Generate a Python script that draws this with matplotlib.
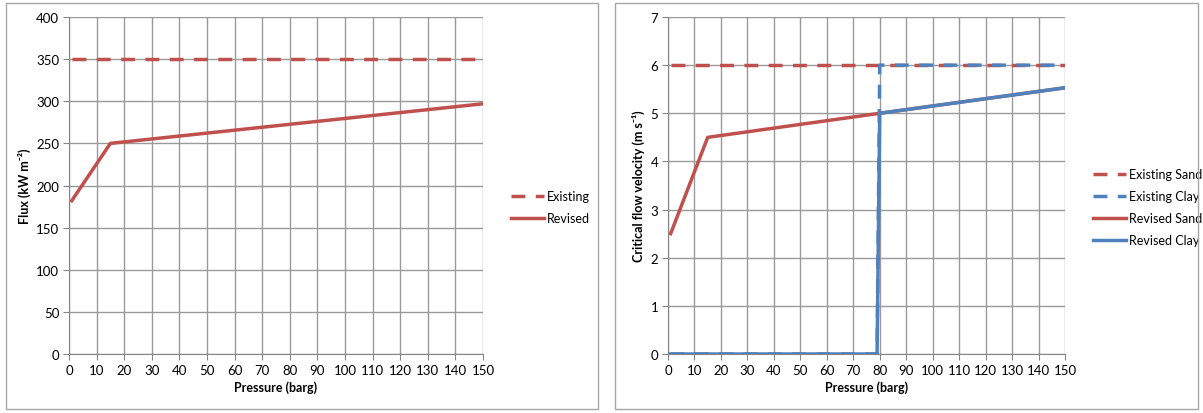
import matplotlib.pyplot as plt
from matplotlib.patches import Rectangle

plt.rcParams['font.family'] = ['Lato', 'DejaVu Sans']

RED = '#C0504D'
BLUE = '#4F81BD'
GRID = '#9a9a9a'

# flux chart
flux_existing_p = [1, 150]
flux_existing = [350, 350]
flux_revised_p = [1, 15, 150]
flux_revised = [182, 250, 297]

# velocity chart
sand_existing_p = [1, 150]
sand_existing = [6, 6]
clay_existing_p = [1, 79, 80, 150]
clay_existing = [0, 0, 6, 6]
sand_revised_p = [1, 15, 80, 150]
sand_revised = [2.5, 4.5, 5.0, 5.53]
clay_revised_p = [1, 79, 80, 150]
clay_revised = [0, 0, 5.0, 5.53]

fig = plt.figure(figsize=(12.03, 4.14), dpi=100)

# panel frames
for x0, x1 in [(6, 598), (615, 1198)]:
    fig.patches.append(Rectangle((x0 / 1203, 4 / 414), (x1 - x0) / 1203, 406 / 414,
                                 transform=fig.transFigure, fill=False,
                                 edgecolor='#a6a6a6', lw=1))

ax1 = fig.add_axes([69 / 1203, 1 - 355 / 414, (483 - 69) / 1203, 337 / 414])
ax2 = fig.add_axes([668 / 1203, 1 - 355 / 414, (1065 - 668) / 1203, 337 / 414])


def style(ax, ymax, ystep, ylabel):
    ax.set_xlim(0, 150)
    ax.set_ylim(0, ymax)
    ax.set_xticks(range(0, 151, 10))
    ax.set_yticks([i * ystep for i in range(int(round(ymax / ystep)) + 1)])
    ax.grid(True, color=GRID, lw=1)
    ax.set_axisbelow(True)
    for s in ['top', 'right']:
        ax.spines[s].set_visible(False)
    for s in ['left', 'bottom']:
        ax.spines[s].set_color('#868686')
    ax.tick_params(length=4, color='#868686', labelsize=9.5, pad=3)
    ax.set_xlabel('Pressure (barg)', fontsize=9, fontweight='bold', labelpad=3)
    ax.set_ylabel(ylabel, fontsize=9, fontweight='bold', labelpad=4)


def legend(ax, x):
    ax.legend(loc='center left', bbox_to_anchor=(x / 1203, 1 - 208 / 414),
              bbox_transform=fig.transFigure, frameon=False, fontsize=9,
              handlelength=2.6, handletextpad=0.3, labelspacing=0.8,
              borderpad=0, borderaxespad=0)


dash = (4, 3)

ax1.plot(flux_existing_p, flux_existing, color=RED, lw=2.5, dashes=dash, label='Existing')
ax1.plot(flux_revised_p, flux_revised, color=RED, lw=2.5, label='Revised')
style(ax1, 400, 50, 'Flux (kW m⁻²)')
legend(ax1, 511)

ax2.plot(sand_existing_p, sand_existing, color=RED, lw=2.5, dashes=dash, label='Existing Sand')
ax2.plot(clay_existing_p, clay_existing, color=BLUE, lw=2.5, dashes=dash, label='Existing Clay')
ax2.plot(sand_revised_p, sand_revised, color=RED, lw=2.5, label='Revised Sand')
ax2.plot(clay_revised_p, clay_revised, color=BLUE, lw=2.5, label='Revised Clay')
style(ax2, 7, 1, 'Critical flow velocity (m s⁻¹)')
legend(ax2, 1093)

fig.savefig('out.png', dpi=100)
